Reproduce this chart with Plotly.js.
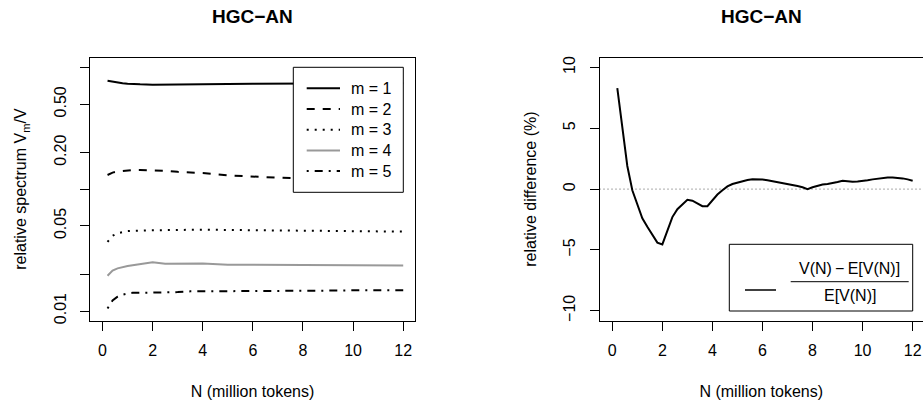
<!DOCTYPE html>
<html>
<head>
<meta charset="utf-8">
<script src="https://cdn.plot.ly/plotly-3.0.1.min.js"></script>
<style>html,body{margin:0;padding:0;background:#fff}#chart{width:923px;height:411px}</style>
</head>
<body>
<div id="chart"></div>
<script>
// ---- data ----
const chartTitle = "HGC\u2212AN";
const xTitle = "N (million tokens)";
const leftYTitle = "relative spectrum V<sub>m</sub>/V";
const rightYTitle = "relative difference (%)";

const xSpec = [0.2,0.4,0.6,0.8,1.0,1.2,1.5,2,2.5,3,3.5,4,5,6,7,8,9,10,11,12];
const spec_m1 = [0.78,0.765,0.752,0.743,0.737,0.732,0.728,0.724,0.727,0.729,0.724,0.726,0.733,0.737,0.74,0.742,0.742,0.742,0.742,0.742];
const spec_m2 = [0.131,0.137,0.14,0.142,0.143,0.144,0.144,0.144,0.142,0.139,0.138,0.136,0.130,0.127,0.1245,0.123,0.122,0.121,0.12,0.119];
const spec_m3 = [0.037,0.0415,0.0435,0.0447,0.0453,0.0456,0.0459,0.0461,0.0462,0.0464,0.0466,0.0466,0.0463,0.0461,0.0458,0.0456,0.0454,0.0452,0.045,0.0449];
const spec_m4 = [0.0195,0.0215,0.0224,0.023,0.0234,0.0238,0.0242,0.0251,0.0244,0.0245,0.0247,0.0246,0.024,0.0239,0.0239,0.0239,0.0237,0.0237,0.0236,0.0236];
const spec_m5 = [0.0105,0.0122,0.0131,0.0136,0.0139,0.0141,0.0141,0.0141,0.0142,0.0143,0.0145,0.0145,0.0145,0.0146,0.0146,0.0147,0.0147,0.0148,0.0148,0.0148];
const legendLabels = ["m = 1","m = 2","m = 3","m = 4","m = 5"];

const xDiff = [0.2,0.4,0.6,0.8,1.0,1.2,1.4,1.6,1.8,2.0,2.2,2.4,2.6,2.8,3.0,3.2,3.4,3.6,3.8,4.0,
               4.2,4.4,4.6,4.8,5.0,5.2,5.4,5.6,5.8,6.0,6.2,6.4,6.6,6.8,7.0,7.2,7.4,7.6,7.8,8.0,
               8.2,8.4,8.6,8.8,9.0,9.2,9.4,9.6,9.8,10.0,10.2,10.4,10.6,10.8,11.0,11.2,11.4,11.6,11.8,12.0];
const relDiff = [8.3,4.9,1.9,-0.1,-1.3,-2.4,-3.1,-3.8,-4.4,-4.55,-3.4,-2.3,-1.65,-1.25,-0.88,-0.95,-1.2,-1.4,-1.4,-0.95,
                 -0.45,-0.1,0.22,0.42,0.55,0.65,0.75,0.8,0.82,0.78,0.72,0.65,0.55,0.46,0.4,0.33,0.26,0.15,0.0,0.15,
                 0.28,0.37,0.42,0.48,0.58,0.68,0.63,0.6,0.62,0.65,0.72,0.8,0.85,0.93,0.95,0.95,0.93,0.88,0.8,0.68];
const diffLegendNum = "V(N)\u2009\u2212\u2009E[V(N)]";
const diffLegendDen = "E[V(N)]";

const xTicks = [0,2,4,6,8,10,12];
const logTickVals = [0.01,0.05,0.2,0.5];
const logTickText = ["0.01","0.05","0.20","0.50"];
const logUnlabeledTicks = [0.02,0.1,1];
const diffTicks = [-10,-5,0,5,10];

// ---- styles ----
const W = 923, H = 411;
const FONT = "Liberation Sans, Arial, Helvetica, sans-serif";
const px = v => v / W;
const py = v => 1 - v / H;
const styles = [
  {color:"#000000", dash:"solid", width:2},
  {color:"#000000", dash:"8px,8px", width:2},
  {color:"#000000", dash:"2px,6px", width:2},
  {color:"#999999", dash:"solid", width:2},
  {color:"#000000", dash:"2px,6px,8px,6px", width:2}
];
const specSeries = [spec_m1, spec_m2, spec_m3, spec_m4, spec_m5];

const traces = specSeries.map((ys, i) => ({
  x: xSpec, y: ys, type: "scatter", mode: "lines", name: legendLabels[i],
  xaxis: "x", yaxis: "y", line: {color: styles[i].color, dash: styles[i].dash, width: styles[i].width},
  showlegend: false, hoverinfo: "skip"
}));
traces.push({
  x: xDiff, y: relDiff, type: "scatter", mode: "lines", name: "relative difference",
  xaxis: "x2", yaxis: "y2", line: {color: "#000", width: 2}, showlegend: false, hoverinfo: "skip"
});

const yDom = [1 - 320.5 / H, 1 - 57.7 / H];
const axisCommon = {
  showgrid: false, zeroline: false, showline: true, linecolor: "#000", linewidth: 1,
  ticks: "outside", ticklen: 9, tickcolor: "#000", tickwidth: 1,
  tickfont: {family: FONT, size: 16, color: "#000"}
};

const shapes = [];
const annotations = [];

// zero reference line (right panel)
shapes.push({type:"line", xref:"x2 domain", yref:"y2", x0:0, x1:1, y0:0, y1:0,
             line:{color:"#555", width:1, dash:"1px,3px"}, layer:"below"});

// left legend
shapes.push({type:"rect", xref:"paper", yref:"paper", x0:px(293.3), x1:px(403.3), y0:py(192.3), y1:py(67.3),
             line:{color:"#000", width:1}, fillcolor:"#fff", layer:"above"});
const rowsY = [88.3, 109.0, 129.7, 150.4, 171.1];
rowsY.forEach((yy, i) => {
  shapes.push({type:"line", xref:"paper", yref:"paper", x0:px(306.7), x1:px(340), y0:py(yy), y1:py(yy),
               line:{color:styles[i].color, width:styles[i].width, dash:styles[i].dash}, layer:"above"});
  annotations.push({xref:"paper", yref:"paper", x:px(349), y:py(yy), xanchor:"left", yanchor:"middle",
                    text:legendLabels[i], showarrow:false, font:{family:FONT, size:16, color:"#000"}});
});

// right legend
shapes.push({type:"rect", xref:"paper", yref:"paper", x0:px(729.3), x1:px(912.7), y0:py(311), y1:py(244.3),
             line:{color:"#000", width:1}, fillcolor:"#fff", layer:"above"});
shapes.push({type:"line", xref:"paper", yref:"paper", x0:px(745), x1:px(776), y0:py(290), y1:py(290),
             line:{color:"#000", width:1.5}, layer:"above"});
shapes.push({type:"line", xref:"paper", yref:"paper", x0:px(790.7), x1:px(908.7), y0:py(281.7), y1:py(281.7),
             line:{color:"#000", width:1}, layer:"above"});
annotations.push({xref:"paper", yref:"paper", x:px(849.7), y:py(268.5), xanchor:"center", yanchor:"middle",
                  text:diffLegendNum, showarrow:false, font:{family:FONT, size:16, color:"#000"}});
annotations.push({xref:"paper", yref:"paper", x:px(849.7), y:py(295.5), xanchor:"center", yanchor:"middle",
                  text:diffLegendDen, showarrow:false, font:{family:FONT, size:16, color:"#000"}});

// panel titles
[252.5, 761].forEach(cx => annotations.push({xref:"paper", yref:"paper", x:px(cx), y:py(16.5), xanchor:"center",
  yanchor:"middle", text:"<b>" + chartTitle + "</b>", showarrow:false, font:{family:FONT, size:19, color:"#000"}}));

const layout = {
  width: W, height: H, margin: {l:0, r:0, t:0, b:0}, paper_bgcolor: "#fff", plot_bgcolor: "#fff",
  font: {family: FONT, size: 16, color: "#000"},
  showlegend: false,
  xaxis: Object.assign({}, axisCommon, {domain:[90/W, 415/W], range:[-0.5, 12.47], tickvals:xTicks,
    mirror: true, anchor:"y", ticklabelstandoff: 6,
    title:{text:xTitle, font:{family:FONT, size:16, color:"#000"}, standoff: 28}}),
  yaxis: Object.assign({}, axisCommon, {domain:yDom, type:"log", range:[-2.078, 0.081],
    tickvals:logTickVals, ticktext:logTickText, tickangle:-90, mirror:true, anchor:"x", ticklabelstandoff: 8,
    minor:{tickvals:logUnlabeledTicks, ticks:"outside", ticklen:9, tickcolor:"#000", tickwidth:1, showgrid:false},
    title:{text:leftYTitle, font:{family:FONT, size:16, color:"#000"}, standoff: 20}}),
  xaxis2: Object.assign({}, axisCommon, {domain:[599.5/W, 1], range:[-0.511, 12.413], tickvals:xTicks,
    mirror: true, anchor:"y2", ticklabelstandoff: 6,
    title:{text:xTitle, font:{family:FONT, size:16, color:"#000"}, standoff: 28}}),
  yaxis2: Object.assign({}, axisCommon, {domain:yDom, range:[-10.8, 10.8], tickvals:diffTicks,
    tickangle:-90, mirror:false, anchor:"x2", ticklabelstandoff: 8,
    title:{text:rightYTitle, font:{family:FONT, size:16, color:"#000"}, standoff: 20}}),
  shapes: shapes, annotations: annotations
};

Plotly.newPlot("chart", traces, layout, {staticPlot: true, displayModeBar: false});
</script>
</body>
</html>
